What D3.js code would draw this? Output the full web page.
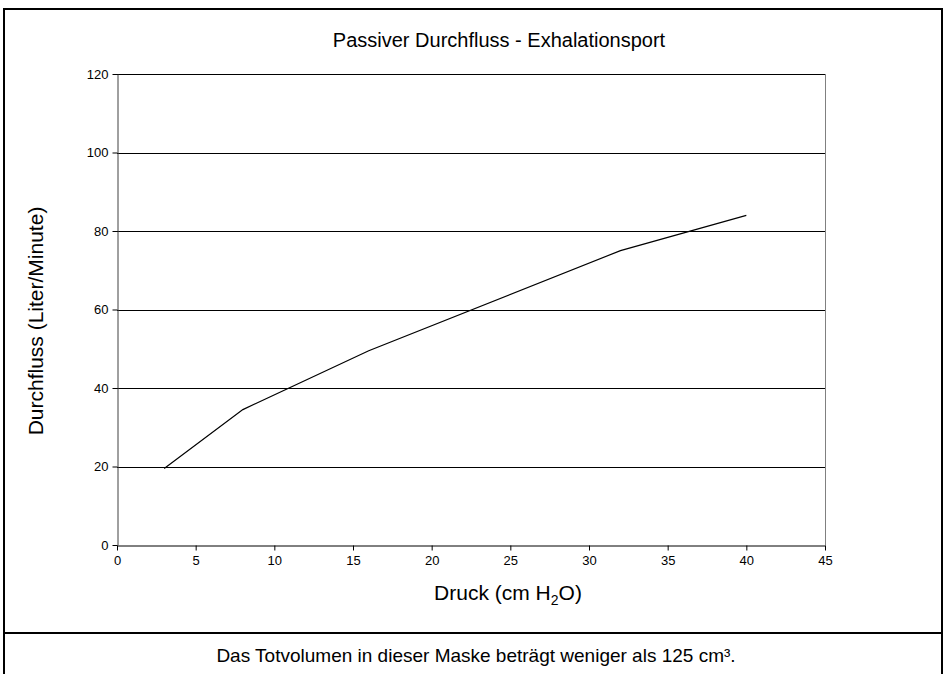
<!DOCTYPE html>
<head>
    <meta charset="utf-8">
    <script src="https://d3js.org/d3.v7.min.js"></script>
    <style>
        body { margin: 0; background: #fff; }
        text { font-family: "Liberation Sans", Arial, sans-serif; fill: #000; }
        .axis { color: #000; }
        .axis text { font-size: 13px; fill: #000; }
        .grid line { stroke: #000; stroke-width: 1px; }
    </style>
</head>
<body>
<script>
    var width = 946, height = 674;

    // data
    var druck = [3, 8, 16, 32, 40];
    var durchfluss = [19.5, 34.5, 49.5, 75, 84];
    var xTicks = [0, 5, 10, 15, 20, 25, 30, 35, 40, 45];
    var yTicks = [0, 20, 40, 60, 80, 100, 120];

    var plotLeft = 117, plotRight = 825, plotTop = 74, plotBottom = 545;

    var svg = d3.select("body").append("svg")
        .attr("width", width)
        .attr("height", height);

    // outer frame and divider
    svg.append("rect")
        .attr("x", 4).attr("y", 9)
        .attr("width", 938).attr("height", 680)
        .attr("fill", "none").attr("stroke", "#000").attr("stroke-width", 2);
    svg.append("line")
        .attr("x1", 4).attr("x2", 942).attr("y1", 633).attr("y2", 633)
        .attr("stroke", "#000").attr("stroke-width", 2);

    var x = d3.scaleLinear().domain([0, 45]).range([plotLeft, plotRight]);
    var y = d3.scaleLinear().domain([0, 120]).range([plotBottom, plotTop]);

    // horizontal gridlines
    svg.append("g")
        .attr("class", "grid")
        .selectAll("line")
        .data(yTicks.filter(function(d) { return d > 0; }))
        .enter().append("line")
        .attr("x1", plotLeft).attr("x2", plotRight)
        .attr("y1", function(d) { return Math.round(y(d)) + 0.5; })
        .attr("y2", function(d) { return Math.round(y(d)) + 0.5; });

    // right border of plot area
    svg.append("line")
        .attr("x1", plotRight + 0.5).attr("x2", plotRight + 0.5)
        .attr("y1", plotTop).attr("y2", plotBottom)
        .attr("stroke", "#808080");

    svg.append("g")
        .attr("class", "axis")
        .attr("transform", "translate(0," + (plotBottom + 0.5) + ")")
        .call(d3.axisBottom(x).tickValues(xTicks).tickSizeInner(5).tickSizeOuter(0).tickPadding(5));

    svg.append("g")
        .attr("class", "axis")
        .attr("transform", "translate(" + (plotLeft + 0.5) + ",0)")
        .call(d3.axisLeft(y).tickValues(yTicks).tickSizeInner(5).tickSizeOuter(0).tickPadding(4))
        .call(function(g) { g.select(".domain").attr("stroke", "#404040"); });

    var line = d3.line()
        .x(function(d) { return x(d[0]); })
        .y(function(d) { return y(d[1]); });

    svg.append("path")
        .datum(d3.zip(druck, durchfluss))
        .attr("d", line)
        .attr("fill", "none")
        .attr("stroke", "#000")
        .attr("stroke-width", 1.2);

    svg.append("text")
        .attr("x", 499).attr("y", 47)
        .attr("text-anchor", "middle")
        .style("font-size", "20px")
        .text("Passiver Durchfluss - Exhalationsport");

    var xt = svg.append("text")
        .attr("x", 508).attr("y", 600)
        .attr("text-anchor", "middle")
        .style("font-size", "21px");
    xt.append("tspan").text("Druck (cm H");
    xt.append("tspan").attr("dy", 5).style("font-size", "14px").text("2");
    xt.append("tspan").attr("dy", -5).text("O)");

    svg.append("text")
        .attr("transform", "translate(43,321) rotate(-90)")
        .attr("text-anchor", "middle")
        .style("font-size", "21px")
        .text("Durchfluss (Liter/Minute)");

    svg.append("text")
        .attr("x", 476).attr("y", 662)
        .attr("text-anchor", "middle")
        .style("font-size", "19px")
        .text("Das Totvolumen in dieser Maske beträgt weniger als 125 cm³.");
</script>
</body>
